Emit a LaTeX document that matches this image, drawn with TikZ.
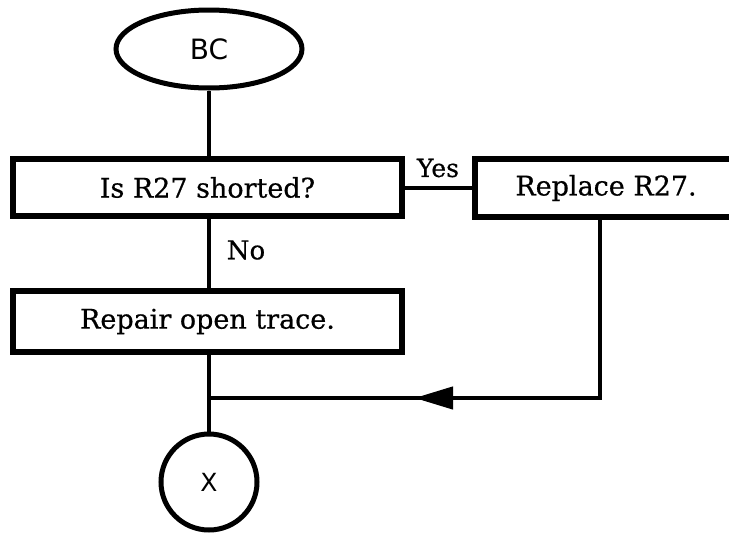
\documentclass[tikz,border=0pt]{standalone}
\usepackage{fontspec}
\setmainfont{DejaVu Serif}
\setsansfont{DejaVu Sans}
\usetikzlibrary{shapes.geometric,arrows.meta}
\begin{document}
\begin{tikzpicture}[x=1pt,y=-1pt,
  boxnode/.style={draw,line width=6pt,rectangle,inner sep=0pt,font=\fontsize{27}{32}\selectfont\addfontfeature{FakeBold=0.6}},
  conn/.style={line width=4pt},
  lbl/.style={inner sep=0pt,font=\fontsize{25}{30}\selectfont\addfontfeature{FakeBold=0.6}}]
\useasboundingbox (0,0) rectangle (729,536);
\node[draw,ellipse,line width=5pt,minimum width=186pt,minimum height=78pt,inner sep=0pt,font=\sffamily\fontsize{28}{32}\selectfont] (bc) at (209,49) {BC};
\node[boxnode,minimum width=389pt,minimum height=57pt] (q) at (207.5,187.5) {Is R27 shorted?};
\node[boxnode,minimum width=263pt,minimum height=58pt] (rep) at (606,188) {Replace R27.};
\node[boxnode,minimum width=389pt,minimum height=61pt] (open) at (207.5,321.5) {Repair open trace.};
\node[draw,circle,line width=5pt,minimum size=96pt,inner sep=0pt,font=\sffamily\fontsize{25}{30}\selectfont] (x) at (209,482) {X};
\coordinate (j) at (209,398);
\coordinate (tip) at (415,398);
\node[lbl] (yes) at (438,168) {Yes};
\node[lbl,font=\fontsize{26}{30}\selectfont\addfontfeature{FakeBold=0.6}] (no) at (246,250) {No};
\draw[conn] (bc.south -| j) -- (q.north -| j);
\draw[conn] (q.east) -- (q.east -| rep.west);
\draw[conn] (q.south -| j) -- (open.north -| j);
\draw[conn] (open.south -| j) -- (x.north);
\draw[conn] ([xshift=-6pt]rep.south) |- (j);
\draw[line width=1pt,fill,-{Triangle[length=38pt,width=23pt]}] ([xshift=40pt]tip) -- (tip);
\end{tikzpicture}
\end{document}
